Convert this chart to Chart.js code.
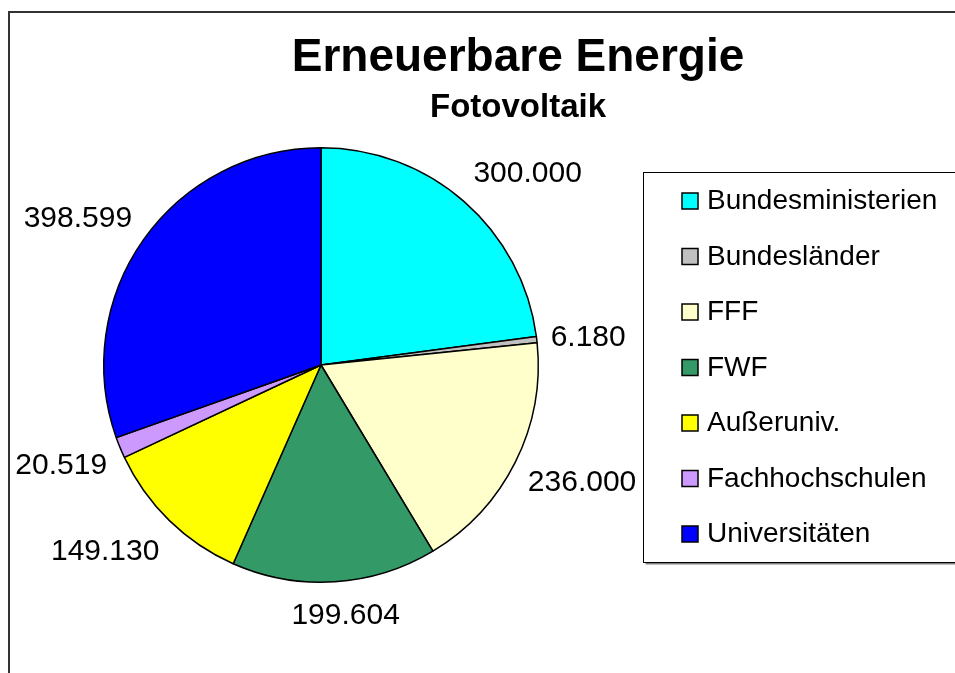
<!DOCTYPE html>
<html>
<head>
<meta charset="utf-8">
<script src="https://cdn.jsdelivr.net/npm/chart.js@4.4.1/dist/chart.umd.min.js"></script>
<style>
  html, body { margin: 0; padding: 0; background: #ffffff; }
  #wrap { width: 955px; height: 673px; position: relative; overflow: hidden; }
  canvas { display: block; }
</style>
</head>
<body>
<div id="wrap"><canvas id="c" width="955" height="673"></canvas></div>
<script>
const titleText = "Erneuerbare Energie";
const subtitleText = "Fotovoltaik";
const categories = ["Bundesministerien", "Bundesländer", "FFF", "FWF", "Außeruniv.", "Fachhochschulen", "Universitäten"];
const values = [300000, 6180, 236000, 199604, 149130, 20519, 398599];
const sliceColors = ["#00FFFF", "#C0C0C0", "#FFFFCC", "#339966", "#FFFF00", "#CC99FF", "#0000FF"];

const FONT = "'Liberation Sans', Arial, Helvetica, sans-serif";

function formatDE(v) {
  return String(Math.round(v)).replace(/\B(?=(\d{3})+(?!\d))/g, ".");
}

const decorPlugin = {
  id: 'decor',
  afterDraw(chart) {
    const ctx = chart.ctx;
    ctx.save();

    // outer frame (left + top, extends beyond the window)
    ctx.strokeStyle = '#333333';
    ctx.lineWidth = 2;
    ctx.beginPath();
    ctx.moveTo(9, 700);
    ctx.lineTo(9, 12);
    ctx.lineTo(1000, 12);
    ctx.stroke();

    // titles
    ctx.fillStyle = '#000000';
    ctx.textAlign = 'center';
    ctx.textBaseline = 'alphabetic';
    ctx.font = "bold 46px " + FONT;
    ctx.fillText(titleText, 518, 71);
    ctx.font = "bold 33px " + FONT;
    ctx.fillText(subtitleText, 518, 117);

    // data labels
    const meta = chart.getDatasetMeta(0);
    const fs = 30;
    ctx.font = fs + "px " + FONT;
    ctx.textAlign = 'center';
    const clamp = (v) => Math.max(-1, Math.min(1, v));
    meta.data.forEach((arc, i) => {
      const p = arc.getProps(['x', 'y', 'startAngle', 'endAngle', 'outerRadius'], true);
      const mid = (p.startAngle + p.endAngle) / 2;
      const sx = Math.cos(mid), sy = Math.sin(mid);
      const txt = formatDE(values[i]);
      const hw = ctx.measureText(txt).width / 2;
      const px = p.x + p.outerRadius * sx;
      const py = p.y + p.outerRadius * sy;
      const cx = px + hw * clamp(3 * sx) + 14 * sx;
      const cy = py + Math.sign(sy) * Math.min(40 * Math.abs(sy), 31);
      ctx.fillText(txt, cx, cy + 0.716 * fs / 2);
    });

    // legend
    const lx = 643.5, ly = 172.5, lh = 390;
    ctx.fillStyle = '#808080';
    ctx.fillRect(lx + 2, ly + lh, 1000, 2);
    ctx.fillStyle = '#ffffff';
    ctx.fillRect(lx, ly, 1000, lh);
    ctx.strokeStyle = '#000000';
    ctx.lineWidth = 1;
    ctx.strokeRect(lx, ly, 1000, lh);

    ctx.font = "28px " + FONT;
    ctx.textAlign = 'left';
    ctx.textBaseline = 'alphabetic';
    const firstY = 201, step = 55.5;
    categories.forEach((name, i) => {
      const cyI = firstY + i * step;
      ctx.fillStyle = sliceColors[i];
      ctx.fillRect(682, cyI - 8, 16, 16);
      ctx.strokeStyle = '#000000';
      ctx.lineWidth = 1.5;
      ctx.strokeRect(682, cyI - 8, 16, 16);
      ctx.fillStyle = '#000000';
      ctx.fillText(name, 707, cyI + 8);
    });

    ctx.restore();
  }
};

new Chart(document.getElementById('c'), {
  type: 'pie',
  data: {
    labels: categories,
    datasets: [{
      data: values,
      backgroundColor: sliceColors,
      borderColor: '#000000',
      borderWidth: 1.5,
      hoverOffset: 0
    }]
  },
  options: {
    responsive: false,
    devicePixelRatio: 1,
    animation: false,
    layout: { padding: { left: 103, right: 416, top: 147, bottom: 90 } },
    plugins: {
      legend: { display: false },
      title: { display: false },
      tooltip: { enabled: false }
    }
  },
  plugins: [decorPlugin]
});
</script>
</body>
</html>
